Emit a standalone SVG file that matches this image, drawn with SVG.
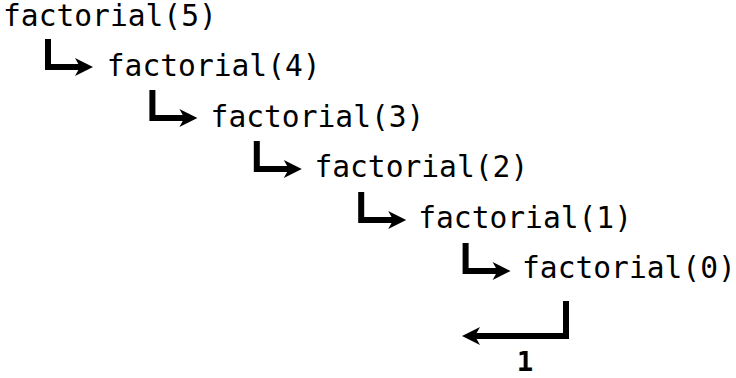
<svg xmlns="http://www.w3.org/2000/svg" width="736" height="378" viewBox="0 0 736 378">
  <style>
    .lbl { font-family: "DejaVu Sans Mono", "Liberation Mono", monospace; font-size: 29.6px; fill: #000; }
    .ret { font-family: "DejaVu Sans Mono", "Liberation Mono", monospace; font-size: 27.4px; font-weight: bold; fill: #000; text-anchor: middle; }
    .conn { fill: none; stroke: #000; stroke-width: 6; stroke-linejoin: miter; stroke-linecap: butt; marker-end: url(#arrow); }
  </style>
  <defs>
    <marker id="arrow" markerUnits="userSpaceOnUse" viewBox="-10 -10 22 20" markerWidth="22" markerHeight="20" refX="0" refY="0" orient="auto">
      <path d="M10,0 L-8,-9 L-3,0 L-8,9 Z" fill="#000"/>
    </marker>
  </defs>
  <rect width="736" height="378" fill="#fff"/>
  <g id="node-f5"><text class="lbl" x="3" y="26">factorial(5)</text></g>
  <g id="node-f4"><text class="lbl" x="106.8" y="76.4">factorial(4)</text></g>
  <g id="node-f3"><text class="lbl" x="210.6" y="126.8">factorial(3)</text></g>
  <g id="node-f2"><text class="lbl" x="314.4" y="177.2">factorial(2)</text></g>
  <g id="node-f1"><text class="lbl" x="418.2" y="227.6">factorial(1)</text></g>
  <g id="node-f0"><text class="lbl" x="522" y="278">factorial(0)</text></g>
  <g id="node-result"><text class="ret" x="525" y="371">1</text></g>
  <g id="connectors">
    <path class="conn" d="M48,39 V67 H83"/>
    <path class="conn" d="M152.4,90 V118 H187.4"/>
    <path class="conn" d="M256.8,141 V169 H291.8"/>
    <path class="conn" d="M361.2,192 V220 H396.2"/>
    <path class="conn" d="M465.6,243 V271 H500.6"/>
    <path class="conn" d="M566,301 V336 H472"/>
  </g>
</svg>
